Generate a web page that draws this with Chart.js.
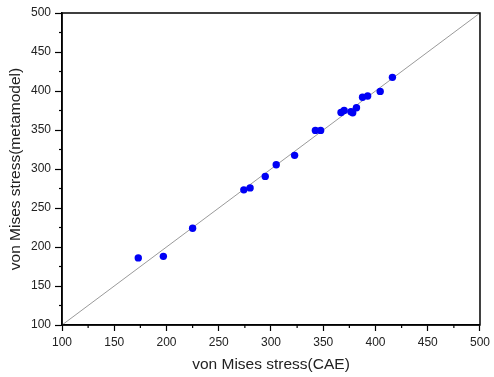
<!DOCTYPE html>
<html lang="en">
	<head>
		<meta charset="UTF-8">
		<title>von Mises stress: CAE vs metamodel</title>
		<script src="https://cdn.jsdelivr.net/npm/chart.js@4/dist/chart.umd.min.js"></script>
		<style>
			body { margin: 0; background: #fff; }
		</style>
	</head>
	<body>
		<canvas id="chart" width="494" height="377"></canvas>
		<script>
			// values
			var stressCAE = [173, 197, 225, 274, 280, 294.5, 305, 322.6, 342.5, 347.5, 367, 370, 376.5, 378.2, 381.8, 387.6, 392.5, 404.5, 416.2];
			var stressMeta = [186, 188, 224, 273.3, 275.8, 290.5, 305.5, 317.5, 349.5, 349.5, 372.5, 375, 373.5, 372, 378.5, 392, 393.5, 399.5, 417.5];
			var diagonal = [100, 500];
			var axisTicks = [100, 150, 200, 250, 300, 350, 400, 450, 500];

			var points = stressCAE.map(function(x, i) { return {x: x, y: stressMeta[i]}; });
			var diagPoints = diagonal.map(function(v) { return {x: v, y: v}; });

			// frame on all four sides + minor ticks between the labelled ones
			var framePlugin = {
				id: 'frame',
				afterDraw: function(chart) {
					var ctx = chart.ctx, a = chart.chartArea;
					var xs = chart.scales.x, ys = chart.scales.y;
					ctx.save();
					ctx.strokeStyle = '#000';
					ctx.lineWidth = 1.2;
					for (var i = 0; i < axisTicks.length - 1; i++) {
						var mid = (axisTicks[i] + axisTicks[i + 1]) / 2;
						var px = xs.getPixelForValue(mid);
						ctx.beginPath();
						ctx.moveTo(px, a.bottom);
						ctx.lineTo(px, a.bottom + 3);
						ctx.stroke();
						var py = ys.getPixelForValue(mid);
						ctx.beginPath();
						ctx.moveTo(a.left, py);
						ctx.lineTo(a.left - 3, py);
						ctx.stroke();
					}
					ctx.lineWidth = 1.5;
					ctx.strokeRect(a.left, a.top, a.right - a.left, a.bottom - a.top);
					ctx.restore();
				}
			};

			var font = '"Liberation Sans", Arial, sans-serif';

			new Chart(document.getElementById('chart'), {
				type: 'scatter',
				data: {
					datasets: [
						{
							label: 'samples',
							data: points,
							backgroundColor: '#0000f5',
							borderColor: '#0000f5',
							borderWidth: 0,
							pointRadius: 3.7
						},
						{
							label: 'y = x',
							data: diagPoints,
							showLine: true,
							borderColor: '#9a9a9a',
							borderWidth: 1,
							pointRadius: 0
						}
					]
				},
				options: {
					responsive: false,
					animation: false,
					layout: { padding: { top: 13, right: 10, left: 0, bottom: 0 } },
					plugins: {
						legend: { display: false },
						tooltip: { enabled: false }
					},
					scales: {
						x: {
							type: 'linear',
							min: 100,
							max: 500,
							afterFit: function(scale) { scale.height = 52; },
							ticks: {
								stepSize: 50,
								padding: 4,
								color: '#222',
								font: { family: font, size: 12 },
								maxRotation: 0
							},
							grid: {
								drawOnChartArea: false,
								tickLength: 6,
								tickColor: '#000',
								tickWidth: 1.2
							},
							border: { display: true, color: '#000', width: 1.5 },
							title: {
								display: true,
								text: 'von Mises stress(CAE)',
								color: '#222',
								font: { family: font, size: 15.5 },
								padding: { top: 0, bottom: 3 }
							}
						},
						y: {
							type: 'linear',
							min: 100,
							max: 500,
							afterFit: function(scale) { scale.width = 62; },
							ticks: {
								stepSize: 50,
								padding: 4,
								color: '#222',
								font: { family: font, size: 12 }
							},
							grid: {
								drawOnChartArea: false,
								tickLength: 7,
								tickColor: '#000',
								tickWidth: 1.2
							},
							border: { display: true, color: '#000', width: 1.5 },
							title: {
								display: true,
								text: 'von Mises stress(metamodel)',
								color: '#222',
								font: { family: font, size: 15.5 },
								padding: { top: 6.5, bottom: 0 }
							}
						}
					}
				},
				plugins: [framePlugin]
			});
		</script>
	</body>
</html>
